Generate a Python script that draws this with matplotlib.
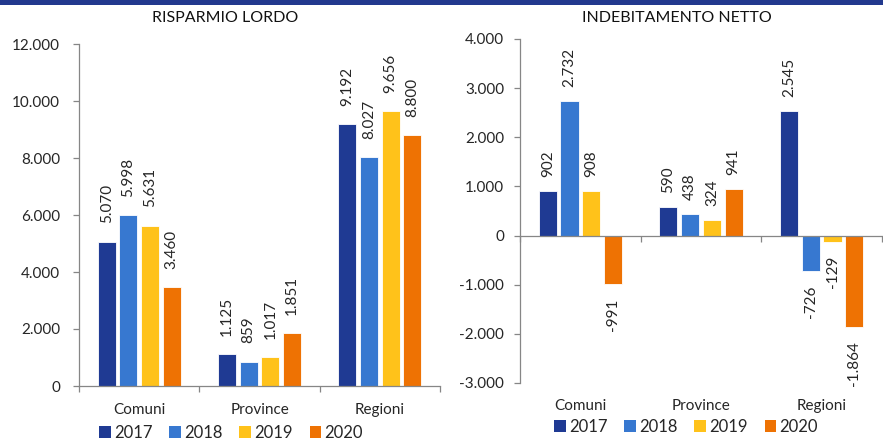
import matplotlib
matplotlib.use("Agg")
import matplotlib.pyplot as plt
import numpy as np
from matplotlib.patches import Patch, Rectangle
import matplotlib.transforms as mtrans

plt.rcParams['font.family'] = ['Lato', 'DejaVu Sans']

categories = ["Comuni", "Province", "Regioni"]
years = ["2017", "2018", "2019", "2020"]
colors = ["#1F3A93", "#3778D0", "#FFC21A", "#EE7203"]

risparmio = {
    "2017": [5070, 1125, 9192],
    "2018": [5998, 859, 8027],
    "2019": [5631, 1017, 9656],
    "2020": [3460, 1851, 8800],
}
indebitamento = {
    "2017": [902, 590, 2545],
    "2018": [2732, 438, -726],
    "2019": [908, 324, -129],
    "2020": [-991, 941, -1864],
}
left_ticks = [0, 2000, 4000, 6000, 8000, 10000, 12000]
right_ticks = [-3000, -2000, -1000, 0, 1000, 2000, 3000, 4000]


def fmt(v):
    s = f"{abs(int(v)):,}".replace(",", ".")
    return ("-" if v < 0 else "") + s


W, H = 883, 441
fig = plt.figure(figsize=(W / 100, H / 100), dpi=100)
fig.add_artist(Rectangle((0, 1 - 5 / H), 1, 5 / H, transform=fig.transFigure,
                         color="#22398E", lw=0))

text_color = "#262626"
axis_color = "#868686"
fs = 11


def setup(ax, data, ticks, ylim, label_off, cat_y, legend_y, legend_x, title, title_x, pad):
    x = np.arange(len(categories))
    step = 0.18
    width = 0.15
    for i, y in enumerate(years):
        xs = x + (i - 1.5) * step
        vals = data[y]
        ax.bar(xs, vals, width=width, color=colors[i], edgecolor="white", linewidth=0.6,
               label=y, zorder=2)
        for xi, v in zip(xs, vals):
            off = label_off if v >= 0 else -label_off
            ax.annotate(fmt(v), (xi, v), xytext=(0, off), textcoords="offset points",
                        rotation=90, ha="center", va="bottom" if v >= 0 else "top",
                        fontsize=fs, color=text_color)
    ax.set_xlim(-0.5, len(categories) - 0.5)
    ax.set_ylim(*ylim)
    ax.set_yticks(ticks)
    ax.set_yticklabels([fmt(t) for t in ticks], fontsize=fs, color=text_color)
    ax.set_xticks(np.arange(len(categories) + 1) - 0.5)
    ax.set_xticklabels([])
    for s in ["top", "right"]:
        ax.spines[s].set_visible(False)
    for s in ["left", "bottom"]:
        ax.spines[s].set_color(axis_color)
        ax.spines[s].set_linewidth(0.9)
    ax.tick_params(axis="both", color=axis_color, length=4.5, width=0.9)
    ax.tick_params(axis="y", pad=pad)
    # category labels
    for xi, c in zip(x, categories):
        tr = mtrans.blended_transform_factory(ax.transData, fig.transFigure)
        ax.text(xi, 1 - cat_y / H, c, transform=tr, ha="center", va="center",
                fontsize=fs, color=text_color)
    handles = [Patch(facecolor=colors[i], label=years[i]) for i in range(4)]
    fig.legend(handles=handles, loc="center", bbox_to_anchor=(legend_x / W, 1 - legend_y / H),
               ncol=4, frameon=False, fontsize=fs + 1, handlelength=0.7, handleheight=0.7,
               handletextpad=0.2, columnspacing=1.0, labelcolor=text_color)
    fig.text(title_x / W, 1 - 18 / H, title, ha="center", va="center", fontsize=11.5,
             color="#111111")


ax1 = fig.add_axes([79 / W, 1 - 386 / H, (440 - 79) / W, (386 - 44) / H])
setup(ax1, risparmio, left_ticks, (0, 12000), 13, 410, 433, 231, "RISPARMIO LORDO", 225, 9)

ax2 = fig.add_axes([520 / W, 1 - 383 / H, (882 - 520) / W, (383 - 39) / H])
setup(ax2, indebitamento, right_ticks, (-3000, 4000), 10, 406, 427, 686, "INDEBITAMENTO NETTO", 677, 7)
ax2.spines["bottom"].set_position(("data", 0))

fig.savefig("out.png", dpi=100)
